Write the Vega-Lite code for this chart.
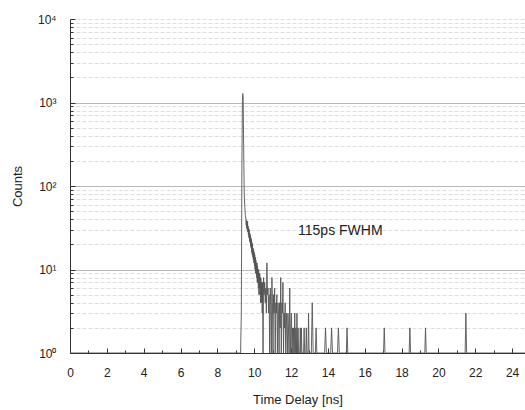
{
  "$schema": "https://vega.github.io/schema/vega-lite/v6.json",
  "width": 455,
  "height": 334,
  "autosize": {"type": "none"},
  "padding": {"left": 70, "top": 19, "right": 0, "bottom": 57},
  "background": "white",
  "config": {
    "view": {"stroke": null},
    "font": "Liberation Sans",
    "axis": {"labelFont": "Liberation Sans", "titleFont": "Liberation Sans", "labelColor": "#222", "titleColor": "#222", "titleFontWeight": "normal", "domainColor": "#333", "tickColor": "#333", "labelOverlap": false},
    "axisX": {"labelOverlap": false}
  },
  "datasets": {
    "trace": [
      {"t": 0.0, "c": 1}, {"t": 9.2, "c": 1}, {"t": 9.26, "c": 1}, {"t": 9.3, "c": 3}, {"t": 9.33, "c": 150}, {"t": 9.36, "c": 1050}, {"t": 9.38, "c": 1280}, {"t": 9.4, "c": 1150}, {"t": 9.42, "c": 420}, {"t": 9.44, "c": 160}, {"t": 9.46, "c": 80}, {"t": 9.49, "c": 55}, {"t": 9.52, "c": 44},
      {"t": 9.55, "c": 40}, {"t": 9.565, "c": 34}, {"t": 9.58, "c": 39}, {"t": 9.595, "c": 31}, {"t": 9.61, "c": 36}, {"t": 9.625, "c": 30}, {"t": 9.64, "c": 38}, {"t": 9.655, "c": 28}, {"t": 9.67, "c": 33}, {"t": 9.685, "c": 26}, {"t": 9.7, "c": 31}, {"t": 9.715, "c": 24}, {"t": 9.73, "c": 30}, {"t": 9.745, "c": 22}, {"t": 9.76, "c": 27}, {"t": 9.775, "c": 21}, {"t": 9.79, "c": 26}, {"t": 9.805, "c": 19}, {"t": 9.82, "c": 24}, {"t": 9.835, "c": 18}, {"t": 9.85, "c": 23}, {"t": 9.865, "c": 16}, {"t": 9.88, "c": 21}, {"t": 9.895, "c": 15}, {"t": 9.91, "c": 20}, {"t": 9.925, "c": 14}, {"t": 9.94, "c": 18}, {"t": 9.955, "c": 13}, {"t": 9.97, "c": 17}, {"t": 9.985, "c": 12}, {"t": 10.0, "c": 16}, {"t": 10.015, "c": 11}, {"t": 10.03, "c": 15}, {"t": 10.045, "c": 10}, {"t": 10.06, "c": 14}, {"t": 10.075, "c": 9}, {"t": 10.09, "c": 13}, {"t": 10.105, "c": 9}, {"t": 10.12, "c": 12}, {"t": 10.135, "c": 8}, {"t": 10.15, "c": 12}, {"t": 10.165, "c": 7}, {"t": 10.18, "c": 11}, {"t": 10.195, "c": 7}, {"t": 10.21, "c": 10}, {"t": 10.225, "c": 6}, {"t": 10.24, "c": 10}, {"t": 10.255, "c": 5}, {"t": 10.27, "c": 9}, {"t": 10.285, "c": 6}, {"t": 10.3, "c": 9}, {"t": 10.315, "c": 5}, {"t": 10.33, "c": 8}, {"t": 10.345, "c": 4}, {"t": 10.36, "c": 8}, {"t": 10.375, "c": 5}, {"t": 10.39, "c": 7}, {"t": 10.405, "c": 4}, {"t": 10.42, "c": 7}, {"t": 10.435, "c": 3}, {"t": 10.45, "c": 7},
      {"t": 10.48, "c": 1}, {"t": 10.51, "c": 8}, {"t": 10.54, "c": 5}, {"t": 10.57, "c": 7}, {"t": 10.6, "c": 4}, {"t": 10.63, "c": 6}, {"t": 10.66, "c": 3}, {"t": 10.69, "c": 12}, {"t": 10.72, "c": 5}, {"t": 10.75, "c": 6}, {"t": 10.78, "c": 3}, {"t": 10.81, "c": 5}, {"t": 10.84, "c": 1}, {"t": 10.87, "c": 6}, {"t": 10.9, "c": 4}, {"t": 10.93, "c": 1}, {"t": 10.96, "c": 8}, {"t": 10.99, "c": 4}, {"t": 11.02, "c": 1}, {"t": 11.05, "c": 5}, {"t": 11.08, "c": 3}, {"t": 11.11, "c": 6}, {"t": 11.14, "c": 1}, {"t": 11.17, "c": 4}, {"t": 11.2, "c": 3}, {"t": 11.23, "c": 5}, {"t": 11.26, "c": 1}, {"t": 11.29, "c": 4}, {"t": 11.32, "c": 3}, {"t": 11.35, "c": 1}, {"t": 11.38, "c": 4}, {"t": 11.41, "c": 2}, {"t": 11.44, "c": 8}, {"t": 11.47, "c": 1}, {"t": 11.5, "c": 4}, {"t": 11.53, "c": 3}, {"t": 11.56, "c": 7}, {"t": 11.59, "c": 1}, {"t": 11.62, "c": 3}, {"t": 11.65, "c": 2}, {"t": 11.68, "c": 4}, {"t": 11.71, "c": 1}, {"t": 11.74, "c": 3}, {"t": 11.77, "c": 2}, {"t": 11.8, "c": 1}, {"t": 11.83, "c": 3}, {"t": 11.86, "c": 2}, {"t": 11.89, "c": 1}, {"t": 11.93, "c": 6}, {"t": 11.96, "c": 1}, {"t": 11.99, "c": 2}, {"t": 12.02, "c": 3}, {"t": 12.05, "c": 1}, {"t": 12.08, "c": 2}, {"t": 12.11, "c": 1}, {"t": 12.14, "c": 2}, {"t": 12.17, "c": 1}, {"t": 12.2, "c": 3}, {"t": 12.23, "c": 1}, {"t": 12.26, "c": 2}, {"t": 12.29, "c": 1}, {"t": 12.32, "c": 3}, {"t": 12.35, "c": 1}, {"t": 12.38, "c": 2}, {"t": 12.41, "c": 1}, {"t": 12.47, "c": 1}, {"t": 12.5, "c": 2}, {"t": 12.53, "c": 1}, {"t": 12.56, "c": 2}, {"t": 12.59, "c": 1}, {"t": 12.68, "c": 1}, {"t": 12.71, "c": 2}, {"t": 12.74, "c": 1}, {"t": 12.8, "c": 1}, {"t": 12.83, "c": 2}, {"t": 12.86, "c": 1}, {"t": 12.92, "c": 1}, {"t": 12.95, "c": 3}, {"t": 12.98, "c": 1}, {"t": 13.1, "c": 1}, {"t": 13.15, "c": 4}, {"t": 13.2, "c": 1}, {"t": 13.32, "c": 1}, {"t": 13.36, "c": 2}, {"t": 13.4, "c": 1}, {"t": 13.82, "c": 1}, {"t": 13.87, "c": 2}, {"t": 13.92, "c": 1}, {"t": 14.15, "c": 1}, {"t": 14.2, "c": 2}, {"t": 14.25, "c": 1}, {"t": 14.52, "c": 1}, {"t": 14.57, "c": 2}, {"t": 14.62, "c": 1}, {"t": 15.0, "c": 1}, {"t": 15.04, "c": 2}, {"t": 15.08, "c": 1}, {"t": 17.02, "c": 1}, {"t": 17.06, "c": 2}, {"t": 17.1, "c": 1}, {"t": 18.41, "c": 1}, {"t": 18.45, "c": 2}, {"t": 18.49, "c": 1}, {"t": 19.26, "c": 1}, {"t": 19.3, "c": 2}, {"t": 19.34, "c": 1}, {"t": 21.45, "c": 1}, {"t": 21.49, "c": 3}, {"t": 21.53, "c": 1}, {"t": 24.7, "c": 1}
    ],
    "note": [{"t": 12.38, "c": 29, "label": "115ps FWHM"}]
  },
  "encoding": {
    "x": {
      "field": "t", "type": "quantitative",
      "scale": {"domain": [0, 24.7], "nice": false, "zero": false},
      "axis": {
        "title": "Time Delay [ns]", "titleFontSize": 13, "titlePadding": 13,
        "values": [0,1,2,3,4,5,6,7,8,9,10,11,12,13,14,15,16,17,18,19,20,21,22,23,24],
        "labelExpr": "datum.value % 2 == 0 ? format(datum.value, 'd') : ''",
        "labelFontSize": 12, "labelPadding": 19, "labelOverlap": false, "labelFlush": false, "labelBound": false,
        "tickSize": {"condition": {"test": "datum.value % 2 == 0", "value": -5}, "value": -3},
        "grid": false
      }
    },
    "y": {
      "field": "c", "type": "quantitative",
      "scale": {"type": "log", "domain": [1, 10000], "nice": false},
      "axis": {
        "title": "Counts", "titleFontSize": 13, "titlePadding": 13,
        "values": [1,2,3,4,5,6,7,8,9,10,20,30,40,50,60,70,80,90,100,200,300,400,500,600,700,800,900,1000,2000,3000,4000,5000,6000,7000,8000,9000,10000],
        "labelExpr": "datum.value == 1 ? '10⁰' : datum.value == 10 ? '10¹' : datum.value == 100 ? '10²' : datum.value == 1000 ? '10³' : datum.value == 10000 ? '10⁴' : ''",
        "labelFontSize": 12, "labelPadding": 19, "labelOverlap": false, "labelFlush": false,
        "tickSize": {"condition": {"test": "indexof([1,10,100,1000,10000], datum.value) >= 0", "value": -5}, "value": -3},
        "grid": true,
        "gridColor": {"condition": {"test": "indexof([10,100,1000], datum.value) >= 0", "value": "#a8a8a8"}, "value": "#d6d6d6"},
        "gridDash": {"condition": {"test": "indexof([10,100,1000], datum.value) >= 0", "value": []}, "value": [4, 2]},
        "gridWidth": 0.8
      }
    }
  },
  "layer": [
    {
      "data": {"name": "trace"},
      "mark": {"type": "line", "color": "#555", "strokeWidth": 0.9, "clip": true, "interpolate": "linear"}
    },
    {
      "data": {"name": "note"},
      "mark": {"type": "text", "align": "left", "baseline": "middle", "fontSize": 14, "color": "#222", "font": "Liberation Sans"},
      "encoding": {"text": {"field": "label"}}
    }
  ]
}
